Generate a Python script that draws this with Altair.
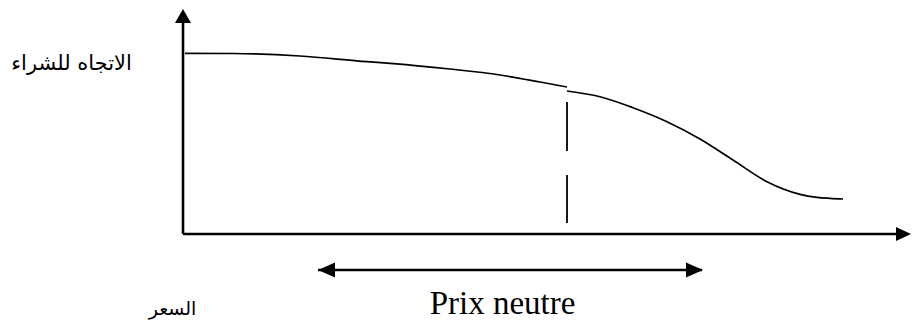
import altair as alt
import pandas as pd

# ---- data (x: price, y: buying propensity; origin at the axes' corner) ----
curve1_x = [2, 50, 117, 184, 207, 267, 317, 357, 384]
curve1_y = [180.7, 180.5, 178, 172.3, 170.7, 165, 159, 152, 147]
curve2_x = [384, 417, 450, 484, 517, 550, 584, 617, 634, 647, 660]
curve2_y = [143, 137.3, 126.3, 112.3, 95, 74, 52.3, 39.7, 36.7, 35.7, 35]

neutral_x = [384]
neutral_y_top = [132]
neutral_y_bottom = [11]

range_start = [135]
range_end = [519]
range_level = [-36]

labels = ["الاتجاه للشراء", "السعر", "Prix neutre"]
label_x = [-111.5, -10.5, 319.5]
label_y = [164, -81, -80]
label_size = [21, 19, 33]

X_DOMAIN = [-175, 729]
Y_DOMAIN = [-87, 226]

xs = alt.Scale(domain=X_DOMAIN, nice=False, zero=False)
ys = alt.Scale(domain=Y_DOMAIN, nice=False, zero=False)

curve_df = pd.DataFrame({
    "x": curve1_x + curve2_x,
    "y": curve1_y + curve2_y,
    "seg": ["a"] * len(curve1_x) + ["b"] * len(curve2_x),
})

curve = alt.Chart(curve_df).mark_line(
    color="black", strokeWidth=1.7, interpolate="monotone"
).encode(
    x=alt.X("x:Q", scale=xs, axis=None),
    y=alt.Y("y:Q", scale=ys, axis=None),
    detail="seg:N",
)

# axes drawn as rules with arrowheads
axes_df = pd.DataFrame({
    "x": [0, 0], "x2": [0, 722], "y": [0, 0], "y2": [214, 0]
})
axes = alt.Chart(axes_df).mark_rule(color="black", strokeWidth=2.6).encode(
    x=alt.X("x:Q", scale=xs, axis=None), x2="x2:Q",
    y=alt.Y("y:Q", scale=ys, axis=None), y2="y2:Q",
)

yhead = alt.Chart(pd.DataFrame({"x": [0], "y": [218]})).mark_point(
    shape="M0,-0.875L1,0.875L-1,0.875Z", size=256, filled=True,
    color="black", opacity=1, strokeWidth=0,
).encode(x=alt.X("x:Q", scale=xs, axis=None), y=alt.Y("y:Q", scale=ys, axis=None))

xhead = alt.Chart(pd.DataFrame({"x": [720.5], "y": [0]})).mark_point(
    shape="M1,0L-1,-0.93L-1,0.93Z", size=225, filled=True,
    color="black", opacity=1, strokeWidth=0,
).encode(x=alt.X("x:Q", scale=xs, axis=None), y=alt.Y("y:Q", scale=ys, axis=None))

# dashed neutral-price line
dash_df = pd.DataFrame({"x": neutral_x, "y": neutral_y_top, "y2": neutral_y_bottom})
dashed = alt.Chart(dash_df).mark_rule(
    color="black", strokeWidth=1.8, strokeDash=[49, 24]
).encode(
    x=alt.X("x:Q", scale=xs, axis=None),
    y=alt.Y("y:Q", scale=ys, axis=None), y2="y2:Q",
)

# double-headed range arrow
rng_df = pd.DataFrame({"x": range_start, "x2": range_end, "y": range_level})
rng = alt.Chart(rng_df).mark_rule(color="black", strokeWidth=2.5).encode(
    x=alt.X("x:Q", scale=xs, axis=None), x2="x2:Q",
    y=alt.Y("y:Q", scale=ys, axis=None),
)
lhead = alt.Chart(pd.DataFrame({"x": [range_start[0] + 8.5], "y": range_level})).mark_point(
    shape="M-1,0L1,-0.88L1,0.88Z", size=289, filled=True,
    color="black", opacity=1, strokeWidth=0,
).encode(x=alt.X("x:Q", scale=xs, axis=None), y=alt.Y("y:Q", scale=ys, axis=None))
rhead = alt.Chart(pd.DataFrame({"x": [range_end[0] - 7.5], "y": range_level})).mark_point(
    shape="M1,0L-1,-0.88L-1,0.88Z", size=289, filled=True,
    color="black", opacity=1, strokeWidth=0,
).encode(x=alt.X("x:Q", scale=xs, axis=None), y=alt.Y("y:Q", scale=ys, axis=None))

# labels
def label(i, font):
    return alt.Chart(pd.DataFrame({"t": [labels[i]], "x": [label_x[i]], "y": [label_y[i]]})).mark_text(
        font=font, fontSize=label_size[i], color="black", align="center", baseline="alphabetic"
    ).encode(x=alt.X("x:Q", scale=xs, axis=None), y=alt.Y("y:Q", scale=ys, axis=None), text="t:N")

ar1 = label(0, "DejaVu Sans")
ar2 = label(1, "DejaVu Sans")
fr = label(2, "Liberation Serif")

chart = alt.layer(
    axes, yhead, xhead, curve, dashed, rng, lhead, rhead, ar1, ar2, fr
).properties(
    width=904, height=313, padding=0,
    autosize=alt.AutoSizeParams(type="none"),
    background="white",
).configure_view(stroke=None)

chart.save("out.html", embed_options={"renderer": "svg", "actions": False})
